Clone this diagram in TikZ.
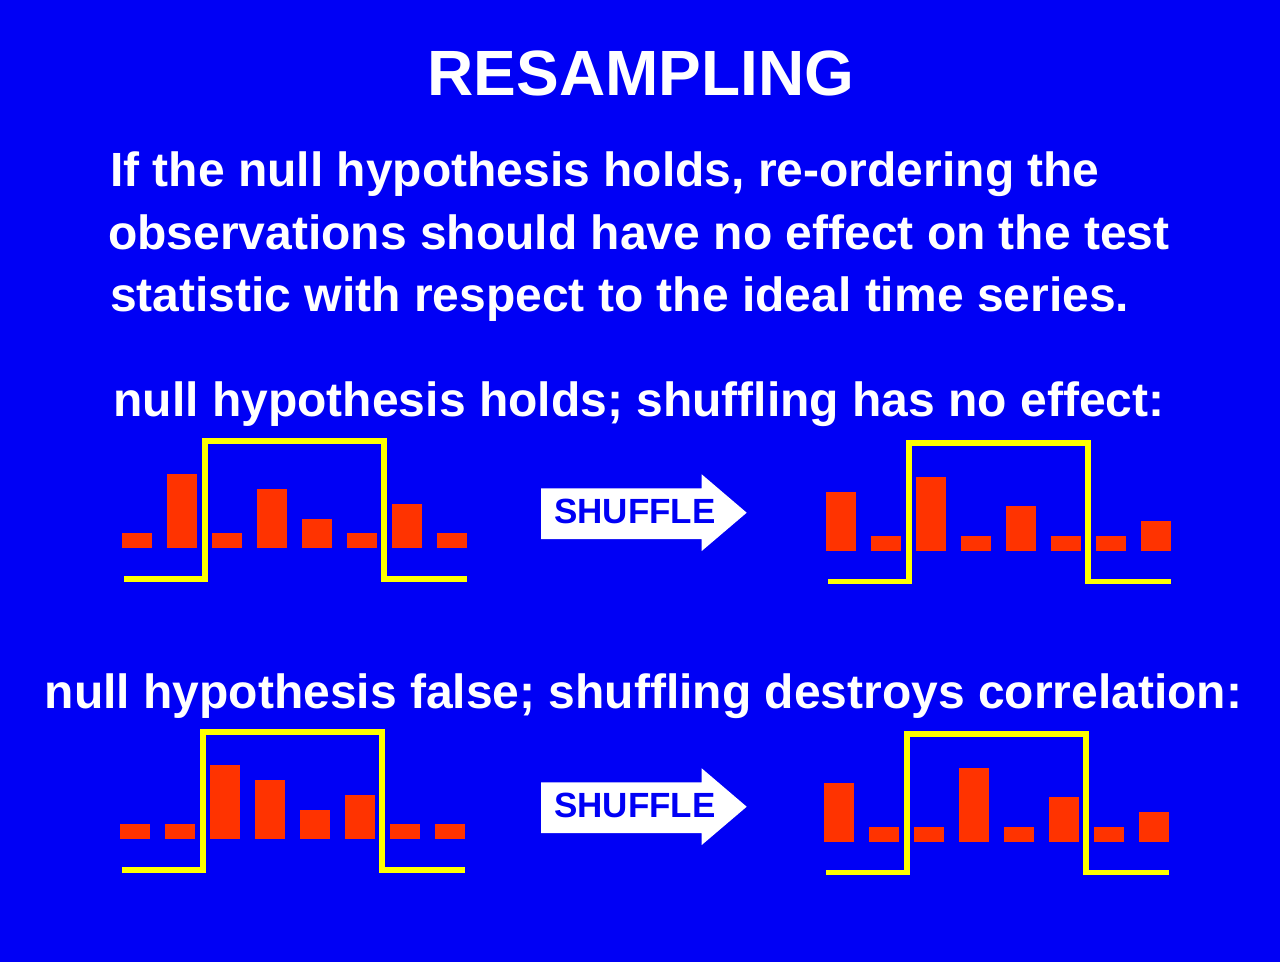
\documentclass[tikz,border=0pt]{standalone}
\usepackage{fontspec}
\setmainfont{Liberation Sans}
\definecolor{slideblue}{RGB}{0,0,245}
\definecolor{barred}{RGB}{255,51,0}
\definecolor{waveyellow}{RGB}{255,255,0}

\begin{document}
\begin{tikzpicture}
    [
    x=1pt, y=-1pt,
    bar/.style={fill=barred,inner sep=0pt,minimum width=30pt,anchor=south west},
    wave/.style={draw=waveyellow,line width=5.3pt},
    heading/.style={text=white,inner sep=0pt,font=\fontsize{48}{56}\selectfont\bfseries},
    shuffletext/.style={text=slideblue,inner sep=0pt,anchor=base,font=\fontsize{35}{40}\selectfont\bfseries},
    ]
    \useasboundingbox (0,0) rectangle (1280,962);
    \fill [slideblue] (0,0) rectangle (1280,962);

    \node (title) at (641,95) [heading, anchor=base, font=\fontsize{64}{72}\selectfont\bfseries] {RESAMPLING};
    \node (line1) at (110,186.5) [heading, anchor=base west] {If the null hypothesis holds, re-ordering the};
    \node (line2) at (108,249.5) [heading, anchor=base west] {observations should have no effect on the test};
    \node (line3) at (110,311.5) [heading, anchor=base west] {statistic with respect to the ideal time series.};

    % null hypothesis holds
    \node (case1) at (639,416.5) [heading, anchor=base] {null hypothesis holds; shuffling has no effect:};
    \foreach \h [count=\i] in {1,5,1,4,2,1,3,1}
      \node (a\i) at ({121.7+45*(\i-1)},548.3) [bar, minimum height=\h*14.8pt] {};
    \draw [wave] (124,579) -| (205,441) -| (384,579) -- (466.7,579);
    \fill [white] (541,488.3) -- (701.7,488.3) -- (701.7,474.3) -- (746.7,512.7)
      -- (701.7,551) -- (701.7,539) -- (541,539) -- cycle;
    \node (shuf1) at (635,523.5) [shuffletext] {SHUFFLE};
    \foreach \h [count=\i] in {4,1,5,1,3,1,1,2}
      \node (b\i) at ({826+45*(\i-1)},551) [bar, minimum height=\h*14.8pt] {};
    \draw [wave] (828,581.5) -| (909,443) -| (1088,581.5) -- (1171,581.5);

    % null hypothesis false
    \node (case2) at (643.5,708.5) [heading, anchor=base] {null hypothesis false; shuffling destroys correlation:};
    \foreach \h [count=\i] in {1,1,5,4,2,3,1,1}
      \node (c\i) at ({120+45*(\i-1)},839.3) [bar, minimum height=\h*14.8pt] {};
    \draw [wave] (122.3,870) -| (203,732) -| (382,870) -- (465,870);
    \begin{scope}[shift={(0,294)}]
      \fill [white] (541,488.3) -- (701.7,488.3) -- (701.7,474.3) -- (746.7,512.7)
        -- (701.7,551) -- (701.7,539) -- (541,539) -- cycle;
      \node (shuf2) at (635,523.5) [shuffletext] {SHUFFLE};
    \end{scope}
    \foreach \h [count=\i] in {4,1,1,5,1,3,1,2}
      \node (d\i) at ({824+45*(\i-1)},842) [bar, minimum height=\h*14.8pt] {};
    \draw [wave] (826,872.5) -| (907,734) -| (1086,872.5) -- (1169,872.5);
\end{tikzpicture}
\end{document}
